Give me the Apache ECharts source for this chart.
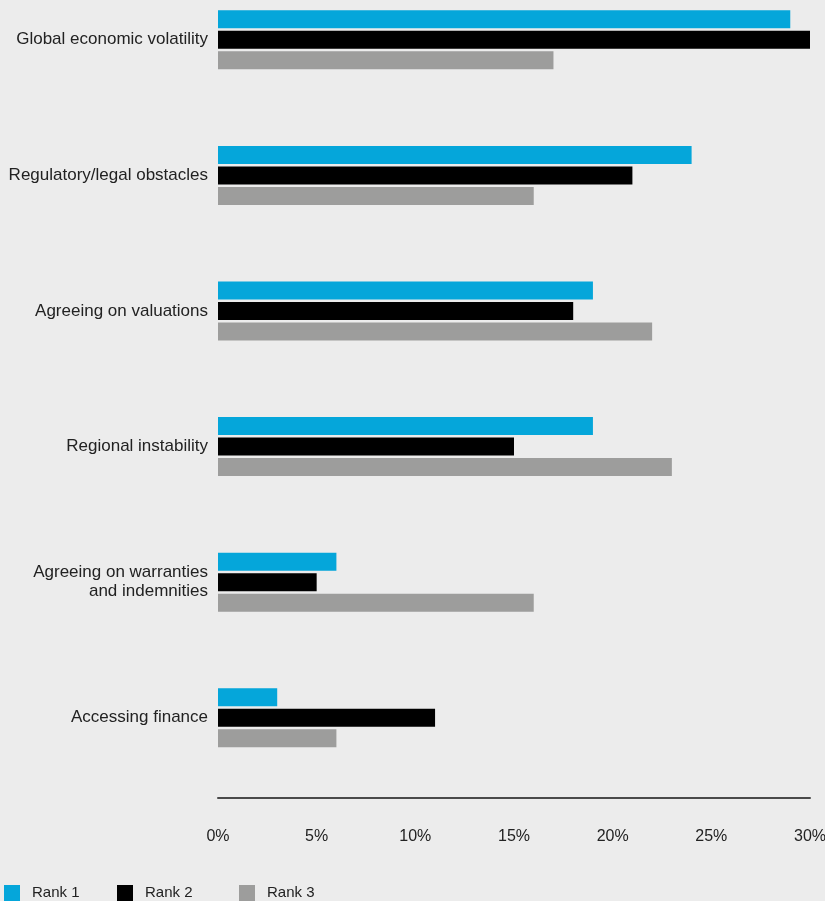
<!DOCTYPE html>
<html>
<head>
<meta charset="utf-8">
<script src="https://cdn.jsdelivr.net/npm/echarts@6/dist/echarts.min.js"></script>
<style>
  html, body { margin: 0; padding: 0; background: #ececec; }
  #chart { width: 825px; height: 901px; }
</style>
</head>
<body>
<div id="chart"></div>
<script>
// Obstacles to deals, share of respondents by rank (%)
const categories = [
  'Global economic volatility',
  'Regulatory/legal obstacles',
  'Agreeing on valuations',
  'Regional instability',
  'Agreeing on warranties\nand indemnities',
  'Accessing finance'
];
const rank1 = [29, 24, 19, 19, 6, 3];
const rank2 = [30, 21, 18, 15, 5, 11];
const rank3 = [17, 16, 22, 23, 16, 6];
const seriesNames = ['Rank 1', 'Rank 2', 'Rank 3'];
const colors = ['#05a6da', '#000000', '#9d9d9c'];

const FONT = '"Liberation Sans", Arial, sans-serif';
const chart = echarts.init(document.getElementById('chart'));

const legendAt = (name, left) => ({
  data: [name],
  left: left,
  top: 885,
  padding: 0,
  icon: 'rect',
  itemWidth: 16,
  itemHeight: 16,
  itemGap: 0,
  textStyle: { fontFamily: FONT, fontSize: 15, color: '#222', padding: [4, 0, 0, 7] },
  selectedMode: false
});

chart.setOption({
  backgroundColor: '#ececec',
  animation: false,
  color: colors,
  grid: {
    left: 218, width: 592, top: -28, height: 813.6,
    containLabel: false,
    outerBoundsMode: 'none'
  },
  legend: [legendAt(seriesNames[0], 4), legendAt(seriesNames[1], 117), legendAt(seriesNames[2], 239)],
  xAxis: {
    type: 'value',
    min: 0, max: 30, interval: 5,
    offset: 12,
    axisLine: { show: true, lineStyle: { color: '#4a4a4a', width: 2 } },
    axisTick: { show: false },
    splitLine: { show: false },
    axisLabel: {
      margin: 31,
      fontFamily: FONT, fontSize: 16, color: '#222',
      formatter: v => v + '%'
    }
  },
  yAxis: {
    type: 'category',
    data: categories,
    inverse: true,
    axisLine: { show: false },
    axisTick: { show: false },
    axisLabel: {
      margin: 10,
      fontFamily: FONT, fontSize: 17, color: '#222',
      lineHeight: 19, align: 'right'
    }
  },
  series: [rank1, rank2, rank3].map((d, i) => ({
    name: seriesNames[i],
    type: 'bar',
    data: d,
    barWidth: 18,
    barGap: '14%',
    itemStyle: { color: colors[i] }
  }))
});
</script>
</body>
</html>
